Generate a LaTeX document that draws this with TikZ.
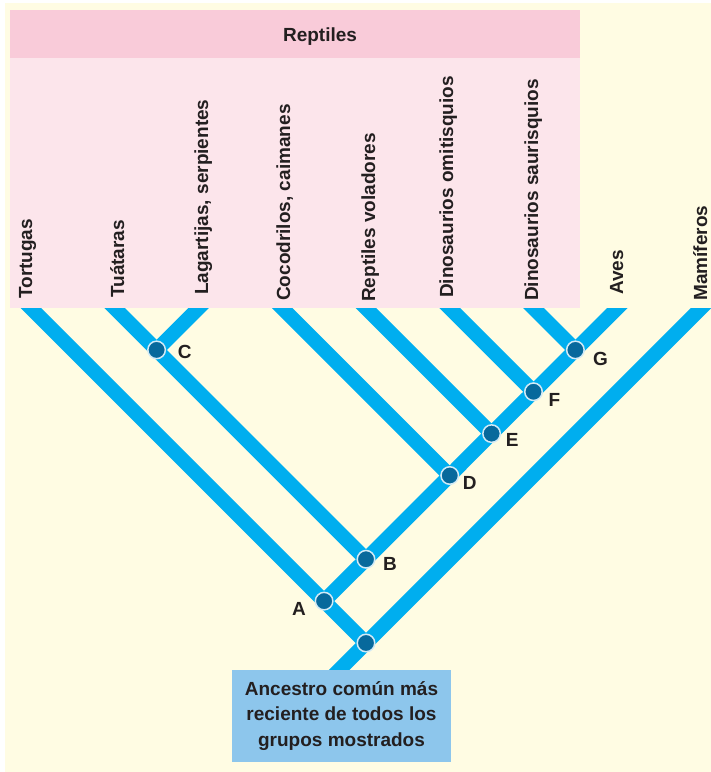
\documentclass[tikz,border=0pt]{standalone}
\usepackage{fontspec}
\setmainfont{Liberation Sans}
\usetikzlibrary{positioning}

\definecolor{crema}{HTML}{FFFCE3}
\definecolor{rosa}{HTML}{F9CBD9}
\definecolor{rosaclaro}{HTML}{FCE5EB}
\definecolor{cian}{HTML}{00AEEF}
\definecolor{azulnodo}{HTML}{07699C}
\definecolor{bordenodo}{HTML}{D2EAF6}
\definecolor{azulcaja}{HTML}{8DC6EC}
\definecolor{texto}{HTML}{231F20}

\begin{document}
\begin{tikzpicture}[x=1pt, y=-1pt,
  rama/.style={line width=14.5pt, draw=cian},
  nodo/.style={circle, fill=azulnodo, draw=bordenodo, line width=1.5pt, minimum size=17.5pt, inner sep=0pt},
  grupo/.style={rotate=90, anchor=base west, inner sep=0pt, text=texto, font=\fontsize{19}{22}\selectfont\bfseries},
  letra/.style={inner sep=0pt, text=texto, font=\fontsize{19}{22}\selectfont\bfseries},
  caja/.style={fill=azulcaja, minimum width=219pt, minimum height=92pt, inner sep=0pt, align=center, text=texto, font=\fontsize{19}{25.5}\selectfont\bfseries}]

\useasboundingbox (0,0) rectangle (711,772);
\fill[white] (0,0) rectangle (711,772);
\fill[crema] (5,3) rectangle (711,772);

% caja de los reptiles
\fill[rosaclaro] (10,10) rectangle (580,308);
\fill[rosa] (10,10) rectangle (580,58);
\node (reptiles) at (320,37) [text=texto, font=\fontsize{19}{22}\selectfont\bfseries] {Reptiles};

\coordinate (tTor) at (19,296); \coordinate (tTua) at (102.75,296); \coordinate (tLag) at (210.5,296);
\coordinate (tCoc) at (270.25,296); \coordinate (tVol) at (354,296); \coordinate (tOrn) at (437.75,296);
\coordinate (tSau) at (521.5,296); \coordinate (tAve) at (629.25,296); \coordinate (tMam) at (713,296);

\coordinate (R) at (366,643); \coordinate (A) at (324.1,601.1); \coordinate (B) at (366,559.25);
\coordinate (C) at (156.6,349.9); \coordinate (D) at (449.75,475.5); \coordinate (E) at (491.6,433.6);
\coordinate (F) at (533.5,391.75); \coordinate (G) at (575.4,349.9);
\coordinate (base) at (326,683);

\begin{scope}
\clip (0,308) rectangle (711,772);
\draw[rama] (tTor) -- (A) -- (R);
\draw[rama] (tMam) -- (R) -- (base);
\draw[rama] (tAve) -- (G) -- (F) -- (E) -- (D) -- (B) -- (A);
\draw[rama] (tTua) -- (C) -- (B);
\draw[rama] (tLag) -- (C);
\draw[rama] (tCoc) -- (D);
\draw[rama] (tVol) -- (E);
\draw[rama] (tOrn) -- (F);
\draw[rama] (tSau) -- (G);
\end{scope}

\node (dR) at (R) [nodo] {}; \node (dA) at (A) [nodo] {}; \node (dB) at (B) [nodo] {};
\node (dC) at (C) [nodo] {}; \node (dD) at (D) [nodo] {}; \node (dE) at (E) [nodo] {};
\node (dF) at (F) [nodo] {}; \node (dG) at (G) [nodo] {};

\node (lA) at (A) [letra, left=18pt, yshift=-8pt] {A};
\node (lB) at (B) [letra, right=17pt, yshift=-5pt] {B};
\node (lC) at (C) [letra, right=21pt, yshift=-2pt] {C};
\node (lD) at (D) [letra, right=13pt, yshift=-7.5pt] {D};
\node (lE) at (E) [letra, right=14pt, yshift=-6pt] {E};
\node (lF) at (F) [letra, right=15pt, yshift=-8pt] {F};
\node (lG) at (G) [letra, right=17.5pt, yshift=-9pt] {G};

\node (nTor) at (32,299) [grupo] {Tortugas};
\node (nTua) at (124,298) [grupo] {Tuátaras};
\node (nLag) at (208,295) [grupo] {Lagartijas, serpientes};
\node (nCoc) at (290,301) [grupo] {Cocodrilos, caimanes};
\node (nVol) at (375,302) [grupo] {Reptiles voladores};
\node (nOrn) at (453,298) [grupo] {Dinosaurios omitisquios};
\node (nSau) at (538,301) [grupo] {Dinosaurios saurisquios};
\node (nAve) at (623,295) [grupo] {Aves};
\node (nMam) at (707,301) [grupo] {Mamíferos};

\node (ancestro) at (341.5,716) [caja] {Ancestro común más\\reciente de todos los\\grupos mostrados};

\end{tikzpicture}
\end{document}
